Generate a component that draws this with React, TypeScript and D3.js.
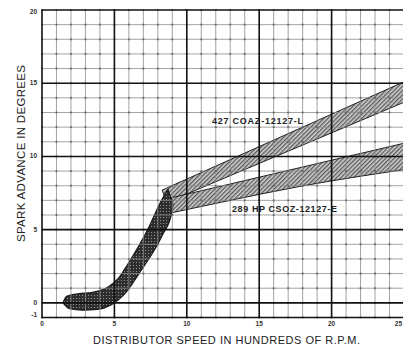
import * as d3 from 'd3';

const rpmTicks = [0, 5, 10, 15, 20, 25];
const degreeTicks = [20, 15, 10, 5, 0, -1];

// band edges, [hundreds of rpm, degrees]
const commonUpper = [[1.45, 0.0], [1.7, 0.45], [2.5, 0.62], [3.5, 0.72], [4.6, 1.1], [5.3, 1.7], [5.9, 2.6], [7.3, 5.0], [8.2, 6.9], [8.7, 7.75]];
const commonLower = [[1.45, 0.0], [1.9, -0.4], [2.8, -0.5], [3.8, -0.45], [4.8, -0.12], [5.7, 0.6], [6.7, 2.0], [8.3, 4.6], [8.95, 6.1], [9.05, 6.7]];

const coazUpper = [[8.3, 7.7], [25, 15.1]];
const coazLower = [[8.6, 6.85], [25, 13.7]];
const csozUpper = [[8.6, 7.1], [25, 10.9]];
const csozLower = [[8.7, 6.1], [13, 7.0], [17.8, 7.95], [25, 9.1]];

const W = 403;
const H = 346;
const x = d3.scaleLinear().domain([0, 25]).range([42, 404]);
const y = d3.scaleLinear().domain([-1, 20]).range([317.5, 10]);

const edge = d3.line<number[]>()
  .x(d => x(d[0]))
  .y(d => y(d[1]))
  .curve(d3.curveMonotoneX);

function bandPath(upper: number[][], lower: number[][]) {
  const a = edge(upper) || '';
  const b = edge([...lower].reverse()) || '';
  return a + 'L' + b.slice(1) + 'Z';
}

const font = '"Liberation Sans", Arial, sans-serif';

export default function App() {
  const xs = d3.range(0, 26);
  const ys = d3.range(-1, 21);
  const isMajor = (v: number) => v % 5 === 0;

  return (
    <svg width={W} height={H} style={{ position: 'absolute', left: 0, top: 0, background: '#fff' }}>
      <defs>
        <pattern id="hatch" patternUnits="userSpaceOnUse" width="3" height="3" patternTransform="rotate(45)">
          <rect width="3" height="3" fill="#cfcfcf" />
          <line x1="0.75" y1="0" x2="0.75" y2="3" stroke="#333" strokeWidth="1" />
        </pattern>
        <pattern id="stipple" patternUnits="userSpaceOnUse" width="3" height="3">
          <rect width="3" height="3" fill="#2e2e2e" />
          <rect x="1" y="1" width="1" height="1" fill="#909090" />
        </pattern>
      </defs>

      {/* bands */}
      <path d={bandPath(coazUpper, coazLower)} fill="url(#hatch)" stroke="#222" strokeWidth={1} />
      <path d={bandPath(csozUpper, csozLower)} fill="url(#hatch)" stroke="#222" strokeWidth={1} />
      <path d={bandPath(commonUpper, commonLower)} fill="url(#stipple)" stroke="#1a1a1a" strokeWidth={1.2} strokeLinejoin="round" />

      {/* graph paper */}
      <g>
        {xs.filter(v => !isMajor(v)).map(v => (
          <line key={'vx' + v} x1={x(v)} x2={x(v)} y1={y(20)} y2={y(-1)} stroke="#8c8c8c" strokeWidth={0.8} />
        ))}
        {ys.filter(v => !isMajor(v) && v !== -1).map(v => (
          <line key={'hy' + v} x1={x(0)} x2={x(25)} y1={y(v)} y2={y(v)} stroke="#8c8c8c" strokeWidth={0.8} />
        ))}
        {xs.map(u => ys.map(v => (
          <rect key={'d' + u + '_' + v} x={x(u) - 1} y={y(v) - 1} width={2} height={2} fill="#444" opacity={0.55} />
        )))}
        {xs.filter(isMajor).map(v => (
          <line key={'Vx' + v} x1={x(v)} x2={x(v)} y1={y(20) - 0.8} y2={y(-1) + 0.8} stroke="#111" strokeWidth={1.6} />
        ))}
        {ys.filter(v => isMajor(v) || v === -1).map(v => (
          <line key={'Hy' + v} x1={x(0)} x2={x(25)} y1={y(v)} y2={y(v)} stroke="#111" strokeWidth={1.6} />
        ))}
      </g>

      {/* tick labels */}
      {degreeTicks.map(v => (
        <text key={'yt' + v} x={x(0) - 5} y={y(v) + (v === -1 ? -1 : v === 20 ? 4 : 2)} textAnchor="end"
          fontFamily={font} fontSize={6.5} fontWeight="bold" fill="#333">{v}</text>
      ))}
      {rpmTicks.map(v => (
        <text key={'xt' + v} x={v === 25 ? W - 1 : x(v)} y={326} textAnchor={v === 25 ? 'end' : 'middle'}
          fontFamily={font} fontSize={6.5} fontWeight="bold" fill="#333">{v}</text>
      ))}

      {/* band labels */}
      <text x={212} y={123.5} fontFamily={font} fontSize={9} fontWeight="bold" fill="#222"
        textLength={91} lengthAdjust="spacing">427 COAZ-12127-L</text>
      <text x={232} y={212} fontFamily={font} fontSize={9} fontWeight="bold" fill="#222"
        textLength={105} lengthAdjust="spacing">289 HP CSOZ-12127-E</text>

      {/* axis titles */}
      <text x={93} y={344} fontFamily={font} fontSize={11} fill="#222"
        textLength={267} lengthAdjust="spacing">DISTRIBUTOR SPEED IN HUNDREDS OF R.P.M.</text>
      <text transform="translate(25,242) rotate(-90)" x={0} y={0} fontFamily={font} fontSize={11.5} fill="#222"
        textLength={177} lengthAdjust="spacing">SPARK ADVANCE IN DEGREES</text>
    </svg>
  );
}
